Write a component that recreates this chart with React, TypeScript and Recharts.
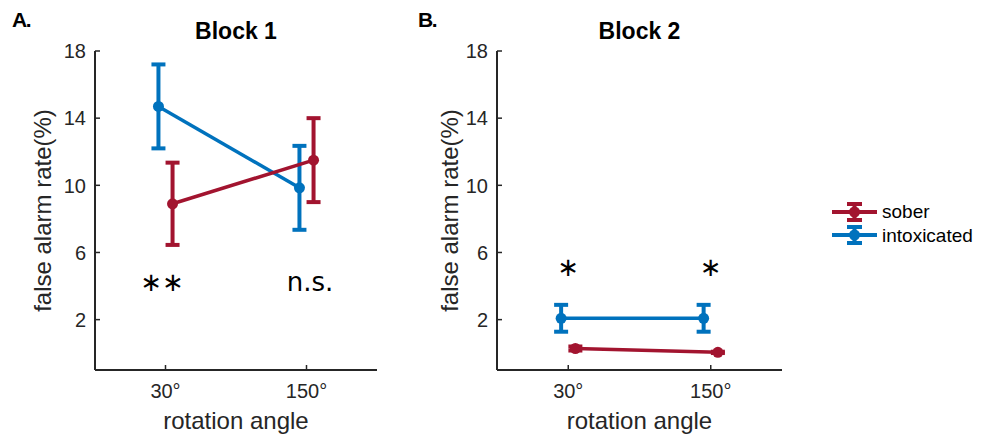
import React from "react";
import {
  ComposedChart,
  Line,
  Scatter,
  XAxis,
  YAxis,
  ErrorBar,
  Legend,
} from "recharts";

const ANGLES = [30, 150];
const DODGE = 6; // sober / intoxicated are nudged apart around each angle
const Y_TICKS = [2, 6, 10, 14, 18];

// Block 1 (false alarm rate, %)
const block1Sober = [8.9, 11.5];
const block1SoberErr = [2.45, 2.5];
const block1Intox = [14.7, 9.85];
const block1IntoxErr = [2.5, 2.5];
const block1Marks = ["∗∗", "n.s."];
const block1MarkX = [27, 153];
const block1MarkY = [3.7, 3.7];

// Block 2
const block2Sober = [0.28, 0.05];
const block2SoberErr = [0.12, 0.04];
const block2Intox = [2.08, 2.08];
const block2IntoxErr = [0.8, 0.8];
const block2Marks = ["∗", "∗"];
const block2MarkX = [30, 150];
const block2MarkY = [4.6, 4.6];

const SERIES = ["sober", "intoxicated"];
const RED = "#A2142F";
const BLUE = "#0072BD";
const INK = "#262626";
const FONT = "'Liberation Sans', Arial, sans-serif";

const toRows = (vals: number[], errs: number[], dx: number) =>
  ANGLES.map((a, i) => ({ x: a + dx, y: vals[i], err: errs[i] }));

const toMarks = (labels: string[], xs: number[], ys: number[]) =>
  labels.map((label, i) => ({ x: xs[i], y: ys[i], label }));

const MarkShape = (props: any) => (
  <text
    x={props.cx}
    y={props.cy}
    textAnchor="middle"
    fontFamily="'DejaVu Sans', sans-serif"
    fontSize={26}
    fill="#000"
  >
    {props.payload.label}
  </text>
);

// tick labels drawn by hand so the font size sticks
const XTick = (p: any) => (
  <text
    x={p.x}
    y={p.y}
    dy="0.71em"
    textAnchor="middle"
    fontFamily={FONT}
    fontSize={20}
    fill={INK}
  >
    {`${p.payload.value}°`}
  </text>
);

const YTick = (p: any) => (
  <text
    x={p.x}
    y={p.y}
    dy="0.36em"
    textAnchor="end"
    fontFamily={FONT}
    fontSize={20}
    fill={INK}
  >
    {p.payload.value}
  </text>
);

const LegendIcon = ({ color }: { color: string }) => (
  <svg width={50} height={22} style={{ display: "block" }}>
    <line x1={2} y1={11} x2={47} y2={11} stroke={color} strokeWidth={4} />
    <line x1={24.5} y1={2} x2={24.5} y2={20} stroke={color} strokeWidth={4} />
    <line x1={17} y1={3} x2={32} y2={3} stroke={color} strokeWidth={4} />
    <line x1={17} y1={19} x2={32} y2={19} stroke={color} strokeWidth={4} />
    <circle cx={24.5} cy={11} r={5.5} fill={color} />
  </svg>
);

const renderLegend = (props: any) => {
  const items = [...(props.payload || [])]
    .filter((p: any) => SERIES.includes(p.value))
    .sort((a: any, b: any) => SERIES.indexOf(a.value) - SERIES.indexOf(b.value));
  return (
    <div style={{ fontFamily: FONT, fontSize: 19, color: "#000" }}>
      {items.map((p: any) => (
        <div
          key={p.value}
          style={{ display: "flex", alignItems: "center", height: 23.4 }}
        >
          <LegendIcon color={p.color} />
          <span style={{ marginLeft: 2, lineHeight: "19px" }}>{p.value}</span>
        </div>
      ))}
    </div>
  );
};

interface PanelProps {
  sober: { x: number; y: number; err: number }[];
  intox: { x: number; y: number; err: number }[];
  marks: { x: number; y: number; label: string }[];
  width: number;
  margin: { top: number; right: number; bottom: number; left: number };
  labelDist: number;
  showLegend?: boolean;
}

function Panel({ sober, intox, marks, width, margin, labelDist, showLegend }: PanelProps) {
  const yLabel = ({ viewBox }: any) => {
    const cx = viewBox.x + viewBox.width - labelDist;
    const cy = viewBox.y + viewBox.height / 2;
    return (
      <text
        x={cx}
        y={cy}
        transform={`rotate(-90 ${cx} ${cy})`}
        textAnchor="middle"
        dominantBaseline="central"
        fontFamily={FONT}
        fontSize={24}
        fill={INK}
      >
        false alarm rate(%)
      </text>
    );
  };
  const xLabel = ({ viewBox }: any) => (
    <text
      x={viewBox.x + viewBox.width / 2}
      y={viewBox.y + 59}
      textAnchor="middle"
      fontFamily={FONT}
      fontSize={24}
      fill={INK}
    >
      rotation angle
    </text>
  );

  return (
    <ComposedChart width={width} height={436} margin={margin}>
      <XAxis
        type="number"
        dataKey="x"
        domain={[-30, 210]}
        ticks={ANGLES}
        height={66}
        tickSize={-5}
        tickMargin={19}
        tick={XTick}
        axisLine={{ stroke: INK, strokeWidth: 2 }}
        tickLine={{ stroke: INK, strokeWidth: 1.5 }}
        allowDataOverflow
        label={{ content: xLabel }}
      />
      <YAxis
        type="number"
        domain={[-1, 18]}
        ticks={Y_TICKS}
        width={60}
        tickSize={-5}
        tickMargin={14}
        tick={YTick}
        axisLine={{ stroke: INK, strokeWidth: 2 }}
        tickLine={{ stroke: INK, strokeWidth: 1.5 }}
        allowDataOverflow
        label={{ content: yLabel }}
      />
      <Line
        data={intox}
        dataKey="y"
        name="intoxicated"
        stroke={BLUE}
        strokeWidth={3.5}
        dot={{ r: 5.5, fill: BLUE, stroke: BLUE, strokeWidth: 0 }}
        activeDot={false}
        isAnimationActive={false}
      >
        <ErrorBar dataKey="err" width={7} stroke={BLUE} strokeWidth={4} isAnimationActive={false} />
      </Line>
      <Line
        data={sober}
        dataKey="y"
        name="sober"
        stroke={RED}
        strokeWidth={3.5}
        dot={{ r: 5.5, fill: RED, stroke: RED, strokeWidth: 0 }}
        activeDot={false}
        isAnimationActive={false}
      >
        <ErrorBar dataKey="err" width={7} stroke={RED} strokeWidth={4} isAnimationActive={false} />
      </Line>
      <Scatter
        data={marks}
        dataKey="y"
        legendType="none"
        shape={MarkShape}
        isAnimationActive={false}
      />
      {showLegend && (
        <Legend
          layout="vertical"
          align="center"
          verticalAlign="middle"
          content={renderLegend}
          wrapperStyle={{ left: 410, top: 200, width: 150, height: 48 }}
        />
      )}
    </ComposedChart>
  );
}

export default function App() {
  return (
    <div
      style={{
        position: "absolute",
        left: 0,
        top: 0,
        width: 982,
        height: 436,
        background: "#fff",
      }}
    >
      <div style={{ position: "absolute", left: 0, top: 0 }}>
        <Panel
          sober={toRows(block1Sober, block1SoberErr, DODGE)}
          intox={toRows(block1Intox, block1IntoxErr, -DODGE)}
          marks={toMarks(block1Marks, block1MarkX, block1MarkY)}
          width={400}
          margin={{ top: 51, right: 23, bottom: 0, left: 35 }}
          labelDist={53}
        />
      </div>
      <div style={{ position: "absolute", left: 420, top: 0 }}>
        <Panel
          sober={toRows(block2Sober, block2SoberErr, DODGE)}
          intox={toRows(block2Intox, block2IntoxErr, -DODGE)}
          marks={toMarks(block2Marks, block2MarkX, block2MarkY)}
          width={562}
          margin={{ top: 51, right: 200, bottom: 0, left: 17 }}
          labelDist={48}
          showLegend
        />
      </div>
      <svg
        width={982}
        height={436}
        style={{ position: "absolute", left: 0, top: 0, pointerEvents: "none" }}
      >
        <text x={12} y={27} fontFamily={FONT} fontWeight="bold" fontSize={21} letterSpacing={-1.5} fill="#000">A.</text>
        <text x={236} y={38.5} fontFamily={FONT} fontWeight="bold" fontSize={23} textAnchor="middle" fill="#000">Block 1</text>
        <text x={418} y={27} fontFamily={FONT} fontWeight="bold" fontSize={21} letterSpacing={-1.5} fill="#000">B.</text>
        <text x={639.5} y={38.5} fontFamily={FONT} fontWeight="bold" fontSize={23} textAnchor="middle" fill="#000">Block 2</text>
      </svg>
    </div>
  );
}
